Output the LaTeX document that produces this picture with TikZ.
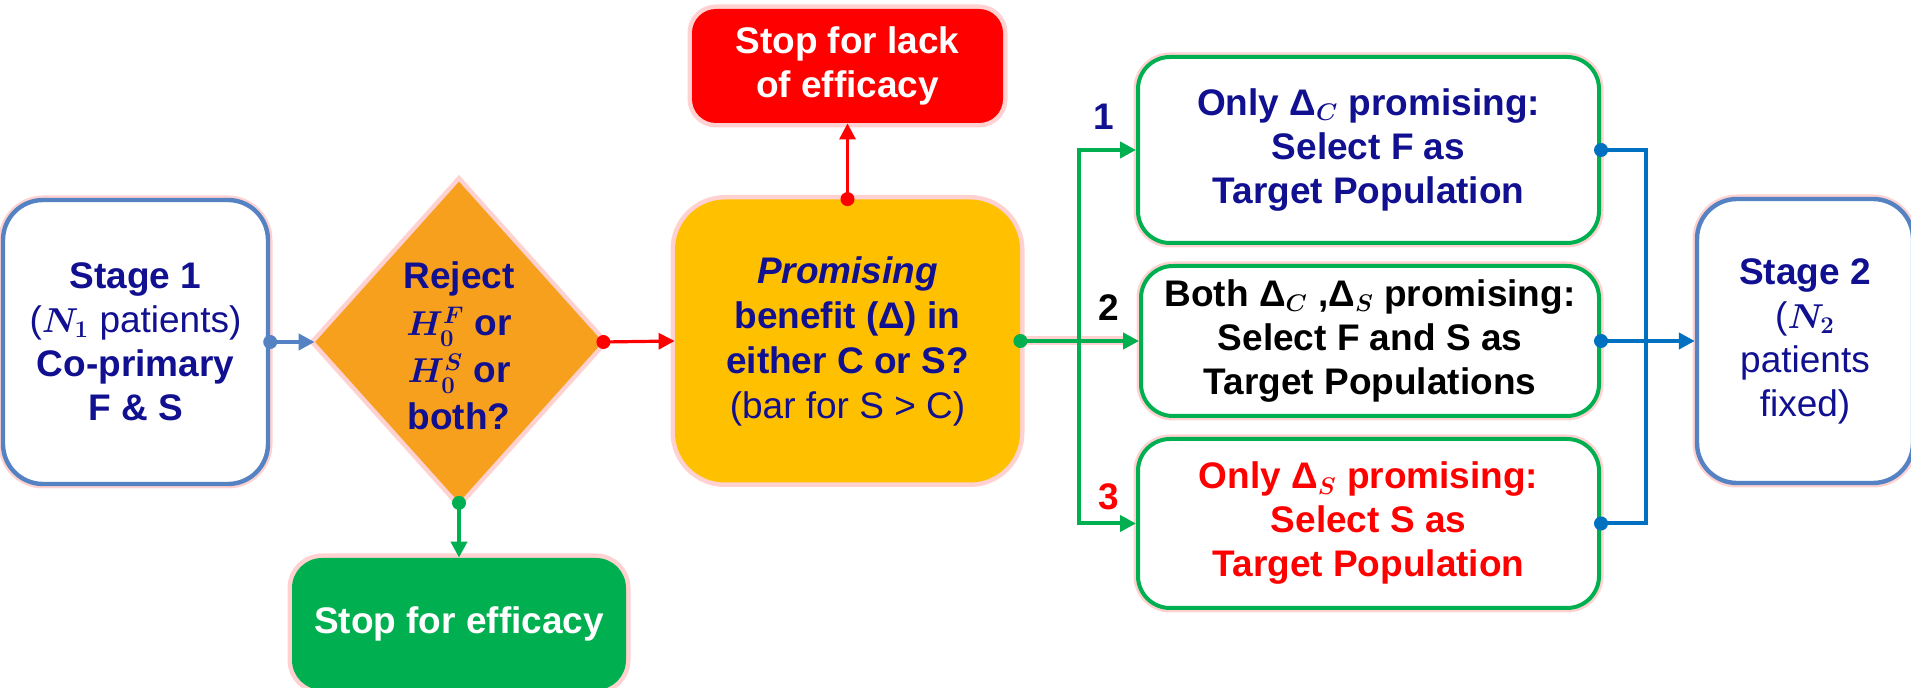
\documentclass[tikz,border=0pt]{standalone}
\usepackage{fontspec}
\setmainfont{Liberation Sans}
\usepackage{amsmath}
\usetikzlibrary{shapes.geometric,arrows.meta,calc}
\definecolor{dblue}{RGB}{16,16,145}
\definecolor{steel}{RGB}{84,130,194}
\definecolor{orangeD}{RGB}{247,160,30}
\definecolor{yellowP}{RGB}{255,192,0}
\definecolor{greenG}{RGB}{0,176,80}
\definecolor{redR}{RGB}{255,0,0}
\definecolor{blueC}{RGB}{0,112,192}
\begin{document}
\begin{tikzpicture}[x=0.5pt,y=-0.5pt,
  glow/.style={preaction={draw=red,draw opacity=0.18,line width=4.5pt}},
  txt/.style={font=\fontsize{18.5}{22}\selectfont\bfseries,align=center,inner sep=0pt},
  stagebox/.style={glow,draw=steel,line width=2.2pt,fill=white,rounded corners=20pt,txt,text=dblue},
  selbox/.style={glow,draw=greenG,line width=2pt,fill=white,rounded corners=16pt,txt},
  fillbox/.style={glow,txt,text=white},
  greenline/.style={draw=greenG,line width=2pt},
  redline/.style={draw=redR,line width=1.6pt},
  blueline/.style={draw=blueC,line width=2pt},
  steelline/.style={draw=steel,line width=2pt},
  tip/.style={-{Triangle[length=8pt,width=8pt]}},
  dotr/.style={radius=3.5pt}
]
\useasboundingbox (0,0) rectangle (1911,688);

% Stage 1
\node[stagebox,minimum width=132.5pt,minimum height=142pt] (st1) at (135.5,342)
  {Stage 1\\{\mdseries(\boldmath$N_1$ patients)}\\Co-primary\\F \& S};

% diamond
\node[glow,diamond,fill=orangeD,minimum width=144pt,minimum height=160.5pt,inner sep=0pt] (dia) at (459,342) {};
\node[txt,text=dblue,font=\fontsize{18.5}{23.5}\selectfont\bfseries] (diat) at (459,346)
  {Reject\\{\boldmath$H_0^F$} or\\{\boldmath$H_0^S$} or\\both?};

% stop for efficacy
\node[fillbox,fill=greenG,rounded corners=15pt,minimum width=167pt,minimum height=66pt] (seff) at (459,624)
  {Stop for efficacy};

% promising
\node[glow,txt,text=dblue,fill=yellowP,rounded corners=25pt,minimum width=172.5pt,minimum height=141.5pt,
  font=\fontsize{18.5}{22.5}\selectfont\bfseries] (prom) at (847.5,341)
  {\textit{Promising}\\benefit (Δ) in\\either C or S?\\{\mdseries(bar for S > C)}};

% stop for lack of efficacy
\node[fillbox,fill=redR,rounded corners=12pt,minimum width=155.5pt,minimum height=57pt] (slack) at (847.5,66)
  {Stop for lack\\of efficacy};

% selection boxes
\node[selbox,text=dblue,minimum width=230.5pt,minimum height=93pt] (b1) at (1368.5,150)
  {Only Δ{\boldmath$_{C}$} promising:\\Select F as\\Target Population};
\node[selbox,text=black,minimum width=229pt,minimum height=75pt] (b2) at (1370,341)
  {Both Δ{\boldmath$_{C}$} ,Δ{\boldmath$_{S}$} promising:\\Select F and S as\\Target Populations};
\node[selbox,text=redR,minimum width=230.5pt,minimum height=84.5pt] (b3) at (1368.5,523.5)
  {Only Δ{\boldmath$_{S}$} promising:\\Select S as\\Target Population};

% Stage 2
\node[stagebox,minimum width=108pt,minimum height=142pt] (st2) at (1805,341)
  {Stage 2\\{\mdseries(\boldmath$N_2$}\\{\mdseries patients}\\{\mdseries fixed)}};

% labels
\node[txt,text=dblue] (l1) at (1104,117) {1};
\node[txt,text=black] (l2) at (1109,308) {2};
\node[txt,text=redR] (l3) at (1109,497) {3};

% connectors
\draw[steelline,tip] (st1.east) -- (dia.west);
\fill[steel] (st1.east) circle[dotr];

\draw[redline,tip] (dia.east) -- (prom.west);
\fill[redR] (dia.east) circle[dotr];

\draw[greenline,tip] (dia.south) -- (seff.north);
\fill[greenG] (dia.south) circle[dotr];

\draw[redline,tip] (prom.north) -- (slack.south);
\fill[redR] (prom.north) circle[dotr];

\coordinate (tr) at (1079,341);
\draw[glow,greenline,tip] (prom.east) -- (b2.west);
\draw[greenline,tip] (tr) |- (b1.west);
\draw[greenline,tip] (tr) |- (b3.west);
\fill[greenG] (prom.east) circle[dotr];

\coordinate (bv) at (1646,341);
\draw[blueline] (b1.east) -| (bv) |- (b3.east);
\draw[blueline,tip] (b2.east) -- (st2.west);
\fill[blueC] (b1.east) circle[dotr];
\fill[blueC] (b2.east) circle[dotr];
\fill[blueC] (b3.east) circle[dotr];
\end{tikzpicture}
\end{document}
